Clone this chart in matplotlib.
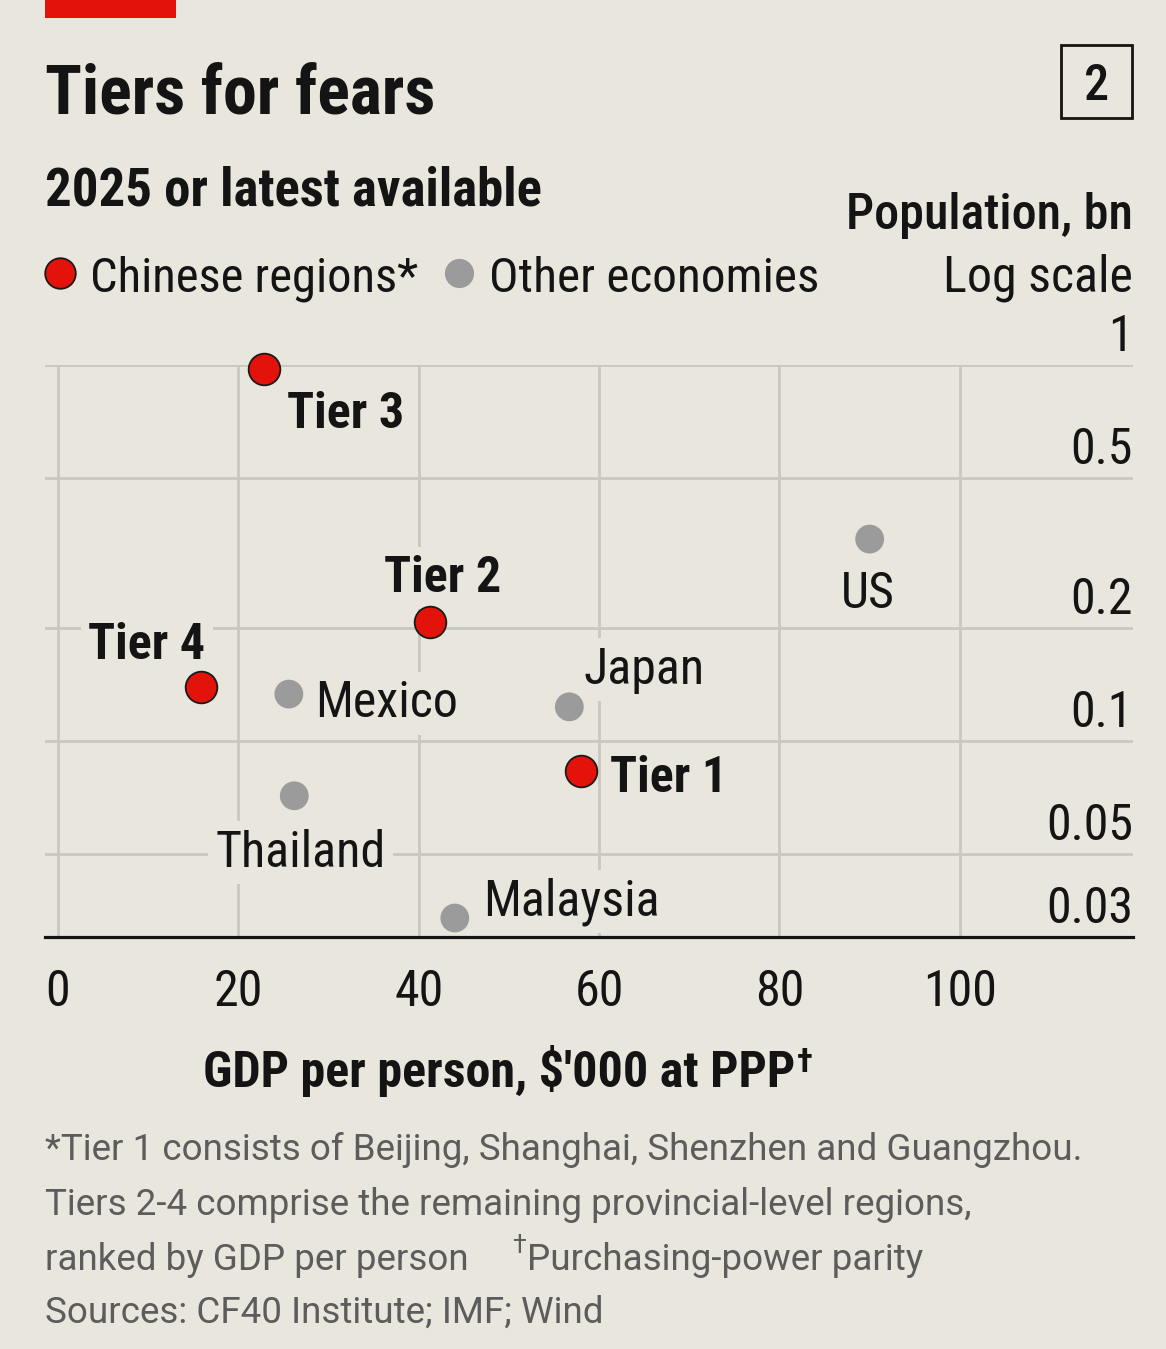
import matplotlib
matplotlib.use('Agg')
import matplotlib.pyplot as plt
import matplotlib.transforms as mtransforms
from matplotlib.patches import Rectangle
from matplotlib.lines import Line2D
from matplotlib.ticker import NullLocator, FixedLocator

# ---------------- data ----------------
chinese_labels = ['Tier 1', 'Tier 2', 'Tier 3', 'Tier 4']
chinese_gdp = [58.0, 41.2, 22.8, 15.9]
chinese_pop = [0.083, 0.207, 0.976, 0.139]

other_labels = ['US', 'Japan', 'Mexico', 'Thailand', 'Malaysia']
other_gdp = [90.0, 56.7, 25.6, 26.2, 44.0]
other_pop = [0.344, 0.123, 0.133, 0.0713, 0.0337]

x_ticks = [0, 20, 40, 60, 80, 100]
x_tick_labels = ['0', '20', '40', '60', '80', '100']
y_ticks = [1, 0.5, 0.2, 0.1, 0.05, 0.03]
y_tick_labels = ['1', '0.5', '0.2', '0.1', '0.05', '0.03']

# ---------------- style ----------------
W, H, DPI = 1166, 1349, 100
BG = '#E9E7DD'
RED = '#E3120B'
GREY = '#9B9B9B'
GRID = '#C9C8BF'
INK = '#141414'
FOOT = '#5C5C5C'
FONT = ['Roboto Condensed', 'Archivo Narrow', 'PT Sans Narrow', 'Roboto',
        'DejaVu Sans']
FOOT_FONT = ['Roboto', 'DejaVu Sans']
plt.rcParams['font.family'] = FONT
plt.rcParams['text.color'] = INK


def fx(px):
    return px / W


def fy(py):
    return 1 - py / H


fig = plt.figure(figsize=(W / DPI, H / DPI), dpi=DPI, facecolor=BG)
ax = fig.add_axes([fx(45), fy(937), (1133 - 45) / W, (937 - 365) / H])
ax.set_facecolor(BG)
ax.set_yscale('log')
ax.set_xlim(-1.44, 119.2)
ax.set_ylim(0.03, 1.0)

ax.xaxis.set_major_locator(FixedLocator(x_ticks))
ax.set_xticklabels(x_tick_labels)
ax.yaxis.set_major_locator(FixedLocator(y_ticks))
ax.yaxis.set_minor_locator(NullLocator())
ax.tick_params(axis='x', length=0, pad=22, labelsize=36, labelcolor=INK)
ax.tick_params(axis='y', which='both', length=0, labelleft=False, labelright=False)
ax.grid(True, color=GRID, linewidth=2.0)
ax.set_axisbelow(True)
for s in ['top', 'left', 'right']:
    ax.spines[s].set_visible(False)
ax.spines['bottom'].set_color(INK)
ax.spines['bottom'].set_linewidth(2.3)

# y tick labels sitting above gridlines, right aligned
ytrans = mtransforms.offset_copy(
    mtransforms.blended_transform_factory(ax.transAxes, ax.transData),
    fig=fig, x=0, y=14, units='dots')
for v, lab in zip(y_ticks, y_tick_labels):
    ax.text(1.0, v, lab, transform=ytrans, ha='right', va='baseline',
            fontsize=36, color=INK)

# points
ax.scatter(other_gdp, other_pop, s=430, c=GREY, edgecolors='none',
           zorder=4, clip_on=False)
ax.scatter(chinese_gdp, chinese_pop, s=520, c=RED, edgecolors='#1A1A1A',
           linewidths=1.3, zorder=5, clip_on=False)

# label placement (pixel offsets from point, alignment)
chinese_offsets = {
    'Tier 1': (29, -21, 'left'),
    'Tier 2': (13, 30, 'center'),
    'Tier 3': (23, -59, 'left'),
    'Tier 4': (4, 28, 'right'),
}
other_offsets = {
    'US': (-2, -69, 'center'),
    'Japan': (14, 23, 'left'),
    'Mexico': (26, -23, 'left'),
    'Thailand': (6, -71, 'center'),
    'Malaysia': (28, 3, 'left'),
}
box = dict(boxstyle='square,pad=0.15', fc=BG, ec='none')
for lab, x, y in zip(chinese_labels, chinese_gdp, chinese_pop):
    dx, dy, ha = chinese_offsets[lab]
    ax.annotate(lab, (x, y), xytext=(dx, dy), textcoords='offset pixels',
                ha=ha, va='baseline', fontsize=36, fontweight='semibold',
                bbox=box, zorder=3)
for lab, x, y in zip(other_labels, other_gdp, other_pop):
    dx, dy, ha = other_offsets[lab]
    ax.annotate(lab, (x, y), xytext=(dx, dy), textcoords='offset pixels',
                ha=ha, va='baseline', fontsize=36, bbox=box, zorder=3)

# ---------------- header ----------------
fig.patches.append(Rectangle((fx(45), fy(18)), 131 / W, 18 / H,
                             transform=fig.transFigure, fc=RED, ec='none'))
fig.text(fx(45), fy(113), 'Tiers for fears', fontsize=49, fontweight='bold',
         va='baseline')
fig.patches.append(Rectangle((fx(1061), fy(118)), 71 / W, 73 / H,
                             transform=fig.transFigure, fill=False,
                             ec=INK, lw=2))
fig.text(fx(1097), fy(100), '2', fontsize=36, ha='center', va='baseline',
         fontweight='medium')
fig.text(fx(45), fy(205), '2025 or latest available', fontsize=38,
         fontweight='semibold', va='baseline')

# legend
fig.add_artist(Line2D([fx(60)], [fy(273)], marker='o', ms=22, mfc=RED,
                      mec='#1A1A1A', mew=1.3, transform=fig.transFigure))
fig.text(fx(90), fy(292), 'Chinese regions*', fontsize=35, va='baseline')
fig.add_artist(Line2D([fx(459)], [fy(273)], marker='o', ms=21, mfc=GREY,
                      mec='none', transform=fig.transFigure))
fig.text(fx(489), fy(292), 'Other economies', fontsize=35.5, va='baseline')

fig.text(fx(1133), fy(229), 'Population, bn', fontsize=36,
         fontweight='medium', ha='right', va='baseline')
fig.text(fx(1133), fy(292), 'Log scale', fontsize=36, ha='right',
         va='baseline')

# x axis title
xl = fig.text(fx(499), fy(1087), "GDP per person, $'000 at PPP", fontsize=36,
              fontweight='semibold', ha='center', va='baseline')
ax.annotate('\u2020', xy=(1, 1), xycoords=xl, xytext=(2, -2),
            textcoords='offset pixels', ha='left', va='top', fontsize=24,
            fontweight='semibold', annotation_clip=False)

# footnotes
fs = 26.5
fig.text(fx(45), fy(1160),
         '*Tier 1 consists of Beijing, Shanghai, Shenzhen and Guangzhou.',
         fontsize=fs, color=FOOT, va='baseline', family=FOOT_FONT)
fig.text(fx(45), fy(1215),
         'Tiers 2-4 comprise the remaining provincial-level regions,',
         fontsize=fs, color=FOOT, va='baseline', family=FOOT_FONT)
fig.text(fx(45), fy(1270), 'ranked by GDP per person', fontsize=fs,
         color=FOOT, va='baseline', family=FOOT_FONT)
fig.text(fx(527), fy(1270), 'Purchasing-power parity', fontsize=fs,
         color=FOOT, va='baseline', family=FOOT_FONT)
fig.text(fx(526), fy(1253), '\u2020', fontsize=18, color=FOOT, ha='right',
         va='baseline', family=FOOT_FONT)
fig.text(fx(45), fy(1323), 'Sources: CF40 Institute; IMF; Wind', fontsize=fs,
         color=FOOT, va='baseline', family=FOOT_FONT)

fig.savefig('out.png', dpi=DPI, facecolor=BG)
